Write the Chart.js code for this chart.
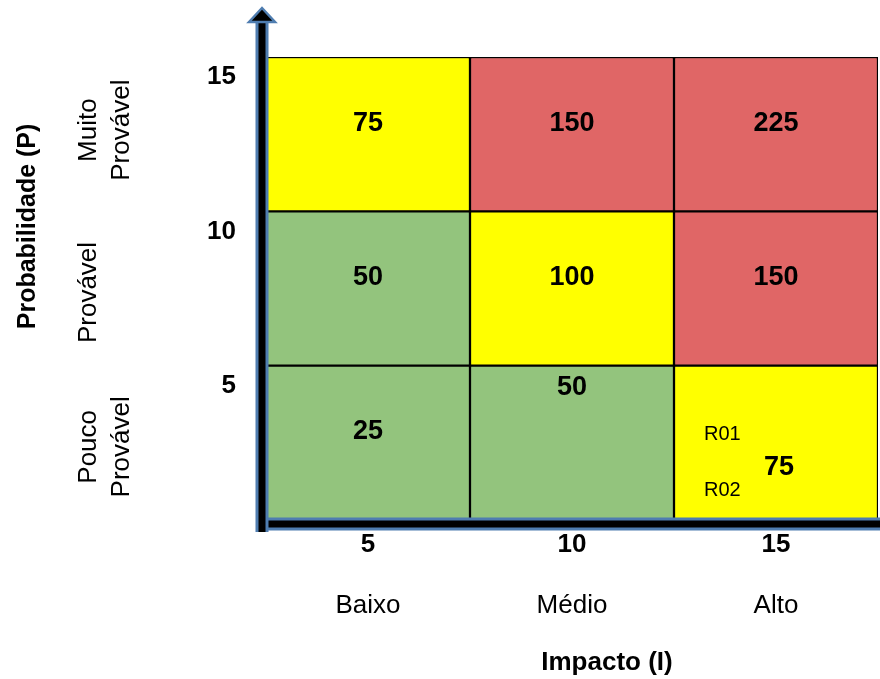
<!DOCTYPE html>
<html>
<head>
<meta charset="utf-8">
<script src="https://cdn.jsdelivr.net/npm/chart.js@4/dist/chart.umd.min.js"></script>
<style>
  html, body { margin: 0; padding: 0; background: #ffffff; }
  #c { display: block; }
</style>
</head>
<body>
<canvas id="c" width="880" height="679"></canvas>
<script>
// ---- Data ----
const impactTicks = ['5', '10', '15'];
const impactLabels = ['Baixo', 'Médio', 'Alto'];
const impactTitle = 'Impacto (I)';

const probTicks = ['5', '10', '15'];                  // bottom -> top
const probLabels = [['Pouco', 'Provável'], ['Provável'], ['Muito', 'Provável']];
const probTitle = 'Probabilidade (P)';

const scoresPouco = [25, 50, 75];
const scoresProvavel = [50, 100, 150];
const scoresMuito = [75, 150, 225];

const risksPoucoAlto = ['R01', 'R02'];

// ---- Build ----
const rows = [scoresPouco, scoresProvavel, scoresMuito];
const RED = '#E06666', YELLOW = '#FFFF00', GREEN = '#93C47D';
function colorFor(s) { return s >= 150 ? RED : (s >= 75 ? YELLOW : GREEN); }

const datasets = rows.map((scores, r) => ({
  label: probTicks[r],
  data: scores.map(() => [r, r + 1]),
  backgroundColor: scores.map(colorFor),
  borderColor: '#000000',
  borderWidth: 1.5,
  borderSkipped: false,
  grouped: false,
  barPercentage: 1,
  categoryPercentage: 1
}));

const FONT = "'Liberation Sans', Arial, sans-serif";

const decor = {
  id: 'decor',
  afterDraw(chart) {
    const ctx = chart.ctx;
    const a = chart.chartArea;
    const xs = chart.scales.x, ys = chart.scales.y;
    ctx.save();
    ctx.fillStyle = '#000';
    ctx.textAlign = 'center';
    ctx.textBaseline = 'middle';

    // cell values
    rows.forEach((scores, r) => {
      const top = ys.getPixelForValue(r + 1), bot = ys.getPixelForValue(r);
      const cy = (top + bot) / 2;
      scores.forEach((s, i) => {
        const cx = xs.getPixelForValue(i);
        ctx.font = 'bold 27px ' + FONT;
        let x = cx, y = cy - 11;
        if (r === 0 && i === 1) y = top + 22;
        if (r === 0 && i === 2) { y = cy + 25; x = cx + 3; }
        ctx.fillText(String(s), x, y);
        if (r === 0 && i === 2) {
          ctx.font = '20px ' + FONT;
          ctx.textAlign = 'left';
          const left = cx - xs.width / 6 + 30;
          ctx.fillText(risksPoucoAlto[0], left, cy - 8);
          ctx.fillText(risksPoucoAlto[1], left, cy + 48);
          ctx.textAlign = 'center';
        }
      });
    });

    // x ticks and category labels
    impactTicks.forEach((t, i) => {
      const cx = xs.getPixelForValue(i);
      ctx.font = 'bold 26px ' + FONT;
      ctx.fillText(t, cx, a.bottom + 25);
      ctx.font = '26px ' + FONT;
      ctx.fillText(impactLabels[i], cx, a.bottom + 86);
    });
    ctx.font = 'bold 26px ' + FONT;
    ctx.fillText(impactTitle, (a.left + a.right) / 2 + 35, a.bottom + 143);

    // y ticks
    ctx.textAlign = 'right';
    probTicks.forEach((t, r) => {
      const top = ys.getPixelForValue(r + 1);
      ctx.font = 'bold 26px ' + FONT;
      ctx.fillText(t, a.left - 30, top + 20);
    });

    // rotated probability labels
    probLabels.forEach((lines, r) => {
      const cy = (ys.getPixelForValue(r + 1) + ys.getPixelForValue(r)) / 2;
      ctx.save();
      ctx.translate(89, cy + (r === 2 ? -4 : 4));
      ctx.rotate(-Math.PI / 2);
      ctx.textAlign = 'center';
      ctx.font = '26px ' + FONT;
      lines.forEach((ln, k) => ctx.fillText(ln, 0, k * 33));
      ctx.restore();
    });

    // rotated title
    ctx.save();
    ctx.translate(28, a.top + (a.bottom - a.top) * 0.366);
    ctx.rotate(-Math.PI / 2);
    ctx.textAlign = 'center';
    ctx.font = 'bold 25px ' + FONT;
    ctx.fillText(probTitle, 0, 0);
    ctx.restore();

    // axes with arrow
    const ax = a.left - 4, ay = a.bottom + 4;
    const BLUE = '#4F7DB0';
    ctx.lineCap = 'butt';
    // horizontal
    ctx.beginPath(); ctx.moveTo(ax - 6, ay); ctx.lineTo(chart.width, ay);
    ctx.strokeStyle = BLUE; ctx.lineWidth = 13; ctx.stroke();
    ctx.strokeStyle = '#000'; ctx.lineWidth = 7; ctx.stroke();
    // vertical
    ctx.beginPath(); ctx.moveTo(ax, ay + 8); ctx.lineTo(ax, 20);
    ctx.strokeStyle = BLUE; ctx.lineWidth = 13; ctx.stroke();
    ctx.strokeStyle = '#000'; ctx.lineWidth = 7; ctx.stroke();
    // arrow head
    ctx.beginPath();
    ctx.moveTo(ax - 13, 22); ctx.lineTo(ax, 8); ctx.lineTo(ax + 13, 22); ctx.closePath();
    ctx.fillStyle = '#000'; ctx.fill();
    ctx.strokeStyle = BLUE; ctx.lineWidth = 2.5; ctx.lineJoin = 'miter'; ctx.stroke();
    ctx.restore();
  }
};

new Chart(document.getElementById('c'), {
  type: 'bar',
  data: { labels: impactTicks, datasets: datasets },
  options: {
    responsive: false,
    animation: false,
    layout: { padding: { left: 266, right: 2, top: 57, bottom: 159 } },
    plugins: { legend: { display: false }, tooltip: { enabled: false } },
    scales: {
      x: { display: false, offset: true },
      y: { display: false, min: 0, max: 3 }
    }
  },
  plugins: [decor]
});
</script>
</body>
</html>
